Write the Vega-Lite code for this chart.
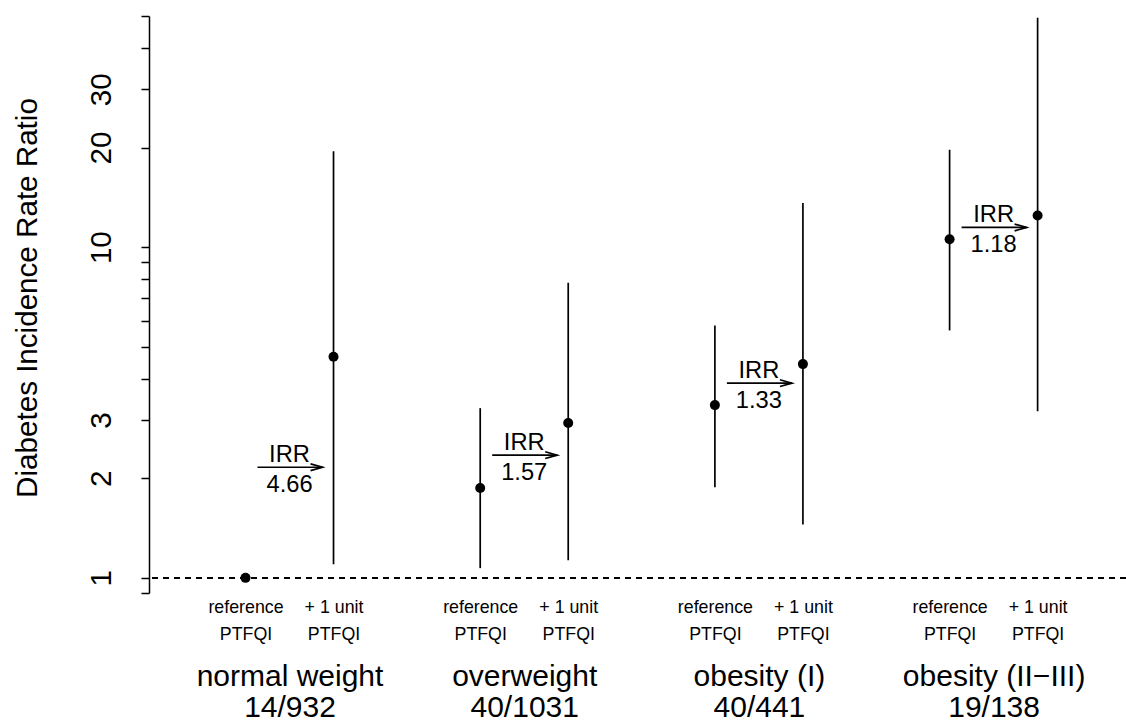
{
  "$schema": "https://vega.github.io/schema/vega-lite/v6.json",
  "width": 977,
  "height": 577,
  "autosize": {"type": "none"},
  "padding": {"left": 149, "top": 16, "right": 0, "bottom": 128},
  "background": "white",
  "config": {"view": {"stroke": null}, "font": "Liberation Sans"},
  "datasets": {
    "pts": [
      {"pos": 1, "group": "normal weight", "kind": "reference", "est": 1, "lo": null, "hi": null},
      {"pos": 1.375, "group": "normal weight", "kind": "+ 1 unit", "est": 4.66, "lo": 1.10, "hi": 19.5},
      {"pos": 2, "group": "overweight", "kind": "reference", "est": 1.87, "lo": 1.07, "hi": 3.26},
      {"pos": 2.375, "group": "overweight", "kind": "+ 1 unit", "est": 2.94, "lo": 1.13, "hi": 7.8},
      {"pos": 3, "group": "obesity (I)", "kind": "reference", "est": 3.33, "lo": 1.88, "hi": 5.8},
      {"pos": 3.375, "group": "obesity (I)", "kind": "+ 1 unit", "est": 4.43, "lo": 1.45, "hi": 13.6},
      {"pos": 4, "group": "obesity (II−III)", "kind": "reference", "est": 10.56, "lo": 5.6, "hi": 19.7},
      {"pos": 4.375, "group": "obesity (II−III)", "kind": "+ 1 unit", "est": 12.46, "lo": 3.19, "hi": 49.4}
    ],
    "grp": [
      {"group": "normal weight", "count": "14/932", "ref_x": 1, "plus_x": 1.375, "mid_x": 1.1875, "irr": 4.66, "arrow_y": 2.16},
      {"group": "overweight", "count": "40/1031", "ref_x": 2, "plus_x": 2.375, "mid_x": 2.1875, "irr": 1.57, "arrow_y": 2.35},
      {"group": "obesity (I)", "count": "40/441", "ref_x": 3, "plus_x": 3.375, "mid_x": 3.1875, "irr": 1.33, "arrow_y": 3.88},
      {"group": "obesity (II−III)", "count": "19/138", "ref_x": 4, "plus_x": 4.375, "mid_x": 4.1875, "irr": 1.18, "arrow_y": 11.47}
    ]
  },
  "resolve": {"scale": {"x": "independent"}, "axis": {"x": "independent"}},
  "layer": [
    {
      "data": {"name": "pts"},
      "mark": {"type": "rule", "strokeDash": [6, 5], "strokeWidth": 1.5, "color": "black"},
      "encoding": {
        "y": {
          "datum": 1,
          "type": "quantitative",
          "title": "Diabetes Incidence Rate Ratio",
          "scale": {"type": "log", "domain": [0.9, 50], "nice": false},
          "axis": {
            "values": [0.9, 1, 2, 3, 4, 5, 6, 7, 8, 9, 10, 20, 30, 40, 50],
            "labelExpr": "indexof([1, 2, 3, 10, 20, 30], datum.value) >= 0 ? format(datum.value, 'd') : ''",
            "grid": false,
            "tickSize": 8,
            "tickWidth": 1.5,
            "tickColor": "black",
            "domainColor": "black",
            "domainWidth": 1.5,
            "labelAngle": 270,
            "labelAlign": "center",
            "labelBaseline": "alphabetic",
            "labelPadding": 31,
            "labelFontSize": 29.6,
            "labelColor": "black",
            "labelOverlap": false,
            "labelFlush": false,
            "titleFontSize": 29.6,
            "titleFontWeight": "normal",
            "titleColor": "black",
            "titleX": -113,
            "titleY": 281.5,
            "titleAngle": 270,
            "titleAlign": "center",
            "titleBaseline": "alphabetic"
          }
        }
      }
    },
    {
      "data": {"name": "pts"},
      "transform": [{"filter": "datum.lo != null"}],
      "mark": {"type": "rule", "strokeWidth": 1.7, "color": "black"},
      "encoding": {
        "x": {"field": "pos", "type": "quantitative", "scale": {"domain": [0.5888, 4.7516], "nice": false, "zero": false}, "axis": null},
        "y": {"field": "lo", "type": "quantitative", "title": "Diabetes Incidence Rate Ratio", "scale": {"type": "log", "domain": [0.9, 50], "nice": false}},
        "y2": {"field": "hi"}
      }
    },
    {
      "data": {"name": "pts"},
      "mark": {"type": "point", "filled": true, "size": 100, "color": "black", "opacity": 1},
      "encoding": {
        "x": {
          "field": "pos",
          "type": "quantitative",
          "scale": {"domain": [0.5888, 4.7516], "nice": false, "zero": false},
          "axis": {
            "orient": "bottom",
            "title": null,
            "values": [1, 1.375, 2, 2.375, 3, 3.375, 4, 4.375],
            "labelExpr": "datum.value % 1 == 0 ? ['reference', 'PTFQI'] : ['+ 1 unit', 'PTFQI']",
            "domain": false,
            "ticks": false,
            "tickSize": 0,
            "grid": false,
            "labelPadding": 5.6,
            "labelFontSize": 17.8,
            "labelLineHeight": 27,
            "labelColor": "black",
            "labelOverlap": false,
            "labelFlush": false,
            "labelBound": false,
            "labelLimit": 1000
          }
        },
        "y": {"field": "est", "type": "quantitative", "title": "Diabetes Incidence Rate Ratio", "scale": {"type": "log", "domain": [0.9, 50], "nice": false}}
      }
    },
    {
      "data": {"name": "grp"},
      "mark": {"type": "rule", "strokeWidth": 1.7, "color": "black", "xOffset": 12, "x2Offset": -11},
      "encoding": {
        "x": {"field": "ref_x", "type": "quantitative", "scale": {"domain": [0.5888, 4.7516], "nice": false, "zero": false}, "axis": null},
        "x2": {"field": "plus_x"},
        "y": {"field": "arrow_y", "type": "quantitative", "title": "Diabetes Incidence Rate Ratio", "scale": {"type": "log", "domain": [0.9, 50], "nice": false}}
      }
    },
    {
      "data": {"name": "grp"},
      "mark": {"type": "point", "shape": "M-1,-0.28L0,0L-1,0.28", "size": 576, "filled": false, "stroke": "black", "strokeWidth": 1.7, "opacity": 1, "xOffset": -11},
      "encoding": {
        "x": {"field": "plus_x", "type": "quantitative", "scale": {"domain": [0.5888, 4.7516], "nice": false, "zero": false}, "axis": null},
        "y": {"field": "arrow_y", "type": "quantitative", "title": "Diabetes Incidence Rate Ratio", "scale": {"type": "log", "domain": [0.9, 50], "nice": false}}
      }
    },
    {
      "data": {"name": "grp"},
      "mark": {"type": "text", "text": "IRR", "fontSize": 23.7, "color": "black", "align": "center", "baseline": "alphabetic", "dy": -5},
      "encoding": {
        "x": {
          "field": "mid_x",
          "type": "quantitative",
          "scale": {"domain": [0.5888, 4.7516], "nice": false, "zero": false},
          "axis": {
            "orient": "bottom",
            "title": null,
            "values": [1.1875, 2.1875, 3.1875, 4.1875],
            "labelExpr": "datum.value < 2 ? ['normal weight', '14/932'] : datum.value < 3 ? ['overweight', '40/1031'] : datum.value < 4 ? ['obesity (I)', '40/441'] : ['obesity (II−III)', '19/138']",
            "domain": false,
            "ticks": false,
            "tickSize": 0,
            "grid": false,
            "labelPadding": 68,
            "labelFontSize": 30,
            "labelLineHeight": 31,
            "labelColor": "black",
            "labelOverlap": false,
            "labelFlush": false,
            "labelBound": false,
            "labelLimit": 1000
          }
        },
        "y": {"field": "arrow_y", "type": "quantitative", "title": "Diabetes Incidence Rate Ratio", "scale": {"type": "log", "domain": [0.9, 50], "nice": false}}
      }
    },
    {
      "data": {"name": "grp"},
      "mark": {"type": "text", "fontSize": 23.7, "color": "black", "align": "center", "baseline": "alphabetic", "dy": 24.4},
      "encoding": {
        "x": {"field": "mid_x", "type": "quantitative", "scale": {"domain": [0.5888, 4.7516], "nice": false, "zero": false}, "axis": null},
        "y": {"field": "arrow_y", "type": "quantitative", "title": "Diabetes Incidence Rate Ratio", "scale": {"type": "log", "domain": [0.9, 50], "nice": false}},
        "text": {"field": "irr", "type": "quantitative", "format": ".2f"}
      }
    }
  ]
}
